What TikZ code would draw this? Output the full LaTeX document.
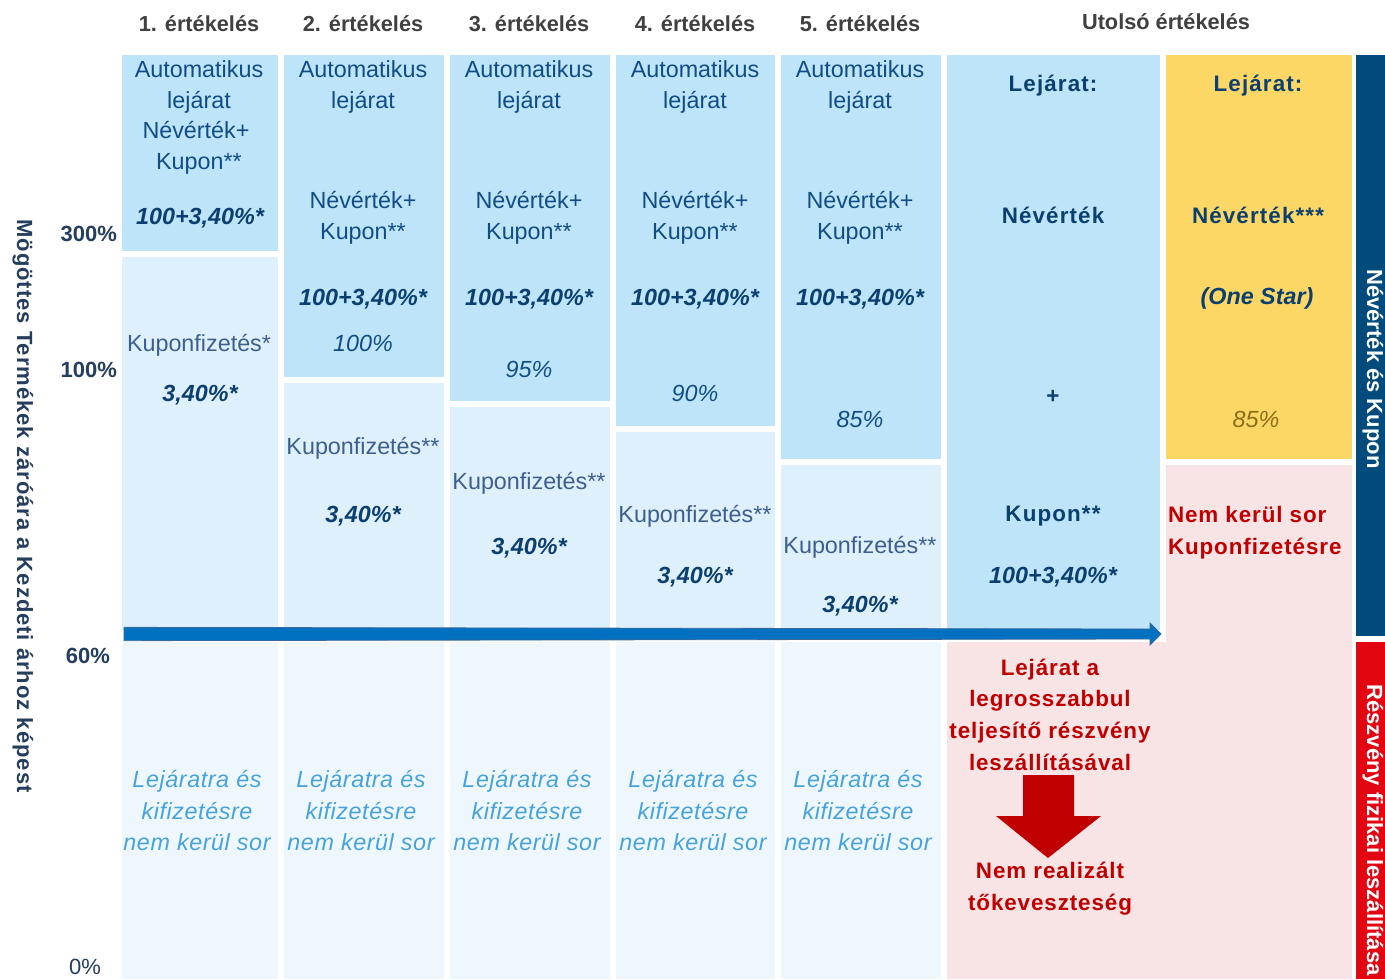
\documentclass[tikz,border=0pt]{standalone}
\usepackage{fontspec}
\setmainfont{Liberation Sans}
\definecolor{topfill}{HTML}{BDE4F9}
\definecolor{midfill}{HTML}{DEF0FC}
\definecolor{lowfill}{HTML}{EFF7FE}
\definecolor{yelfill}{HTML}{FCD766}
\definecolor{pinkfill}{HTML}{F8E3E5}
\definecolor{navybar}{HTML}{004A7C}
\definecolor{redbar}{HTML}{E20613}
\definecolor{arrowblue}{HTML}{0070C0}
\definecolor{arrowedge}{HTML}{3A6A9A}
\definecolor{tblue}{HTML}{114D84}
\definecolor{tdark}{HTML}{0B3F6F}
\definecolor{kupgray}{HTML}{3E5F8E}
\definecolor{lowblue}{HTML}{47A3DA}
\definecolor{redtext}{HTML}{C00000}
\definecolor{axisnavy}{HTML}{263E5E}
\definecolor{hdrgray}{HTML}{404040}
\definecolor{olive}{HTML}{8B6D1A}
\begin{document}
\begin{tikzpicture}[x=0.75pt,y=-0.75pt,
  rbase/.style={inner sep=0pt,outer sep=0pt,text height=0.72em,text depth=0pt,anchor=center},
  base/.style={rbase,yshift=-3pt},
  hdr/.style={base,text=hdrgray,font=\bfseries\fontsize{16.3}{18}\selectfont},
  reg/.style={base,text=tblue,font=\fontsize{17.5}{20}\selectfont},
  bitx/.style={base,text=tdark,font=\bfseries\itshape\fontsize{17.5}{20}\selectfont},
  pct/.style={base,text=tblue,font=\itshape\fontsize{17.5}{20}\selectfont},
  kup/.style={base,text=kupgray,font=\fontsize{17.5}{20}\selectfont},
  low/.style={base,text=lowblue,font=\itshape\fontsize{17.5}{20}\selectfont\addfontfeatures{LetterSpace=2.5}},
  bb/.style={base,text=tdark,font=\bfseries\fontsize{16.8}{20}\selectfont\addfontfeatures{LetterSpace=5}},
  redt/.style={base,text=redtext,font=\bfseries\fontsize{16.8}{20}\selectfont\addfontfeatures{LetterSpace=4}},
  axl/.style={base,text=axisnavy,font=\bfseries\fontsize{16.5}{20}\selectfont},
  sidet/.style={rbase,text=white,rotate=-90,font=\bfseries\fontsize{16.5}{20}\selectfont}]
\useasboundingbox (0,0) rectangle (1385,979);
\fill[white] (0,0) rectangle (1385,979);

% headers
\node[hdr] (h1) at (199,23) {1. értékelés};
\node[hdr] (h2) at (363,23) {2. értékelés};
\node[hdr] (h3) at (529,23) {3. értékelés};
\node[hdr] (h4) at (695,23) {4. értékelés};
\node[hdr] (h5) at (860,23) {5. értékelés};
\node[hdr] (h6) at (1166,21) {Utolsó értékelés};

% axis
\node[rbase,rotate=-90,text=axisnavy,font=\bfseries\fontsize{16.5}{20}\selectfont\addfontfeatures{LetterSpace=4.5}] (ytitle) at (22,506) {Mögöttes Termékek záróára a Kezdeti árhoz képest};
\node[axl,anchor=east] (y300) at (117,233) {300\%};
\node[axl,anchor=east] (y100) at (117,369) {100\%};
\node[axl,anchor=east] (y60) at (110,655) {60\%};
\node[base,anchor=east,text=axisnavy,font=\fontsize{16.5}{20}\selectfont] (y0) at (101,966) {0\%};

% column boxes
\foreach \l/\r/\tb in {122/278/251,284/444/377,450/610/401,616/775/426,781/941/459}{
  \fill[topfill] (\l,55) rectangle (\r,\tb);
  \fill[midfill] (\l,{\tb+6}) rectangle (\r,630);
  \fill[lowfill] (\l,642) rectangle (\r,979);
}
% last evaluation boxes
\fill[topfill] (947,55) rectangle (1160,630);
\fill[yelfill] (1166,55) rectangle (1352,459);
\fill[pinkfill] (947,642) -- (1166,642) -- (1166,465) -- (1352,465) -- (1352,979) -- (947,979) -- cycle;
\fill[navybar] (1356,55) rectangle (1385,636);
\fill[redbar] (1356,642) rectangle (1385,979);

% column 1 texts
\node[reg] (c1a) at (199,69) {Automatikus};
\node[reg] (c1b) at (199,100) {lejárat};
\node[reg] (c1c) at (196,130) {Névérték+};
\node[reg] (c1d) at (199,161) {Kupon**};
\node[bitx] (c1e) at (200,216) {100+3,40\%*};
\node[kup] (c1k) at (199,343) {Kuponfizetés*};
\node[bitx] (c1v) at (200,393) {3,40\%*};

% columns 2-5 texts
\foreach \c/\p/\py/\ky/\vy [count=\i from 2] in {363/100/343/446/514,529/95/369/481/546,695/90/393/514/575,860/85/419/545/604}{
  \node[reg] (c\i a) at (\c,69) {Automatikus};
  \node[reg] (c\i b) at (\c,100) {lejárat};
  \node[reg] (c\i c) at (\c,200) {Névérték+};
  \node[reg] (c\i d) at (\c,231) {Kupon**};
  \node[bitx] (c\i e) at (\c,297) {100+3,40\%*};
  \node[pct] (c\i p) at (\c,\py) {\p\%};
  \node[kup] (c\i k) at (\c,\ky) {Kuponfizetés**};
  \node[bitx] (c\i v) at (\c,\vy) {3,40\%*};
}

% lower texts
\foreach \c [count=\i] in {197,361,527,693,858}{
  \node[low] (l\i a) at (\c,779) {Lejáratra és};
  \node[low] (l\i b) at (\c,811) {kifizetésre};
  \node[low] (l\i c) at (\c,842) {nem kerül sor};
}

% last evaluation (blue)
\node[bb] (la) at (1053,83) {Lejárat:};
\node[bb] (lb) at (1053,215) {Névérték};
\node[bb] (lc) at (1053,395) {+};
\node[bb] (ld) at (1053,513) {Kupon**};
\node[bitx] (le) at (1053,575) {100+3,40\%*};

% last evaluation (yellow)
\node[bb] (ya) at (1258,83) {Lejárat:};
\node[bb] (yb) at (1258,215) {Névérték***};
\node[bitx] (yc) at (1257,296) {(One Star)};
\node[base,text=olive,font=\itshape\fontsize{17.5}{20}\selectfont] (yd) at (1256,419) {85\%};

% pink texts
\node[redt,anchor=west] (pa) at (1168,514) {Nem kerül sor};
\node[redt,anchor=west] (pb) at (1168,546) {Kuponfizetésre};
\node[redt] (ra) at (1050,667) {Lejárat a};
\node[redt] (rb) at (1050,698) {legrosszabbul};
\node[redt] (rc) at (1050,730) {teljesítő részvény};
\node[redt] (rd) at (1050,762) {leszállításával};
\node[redt] (re) at (1050,870) {Nem realizált};
\node[redt] (rf) at (1050,902) {tőkeveszteség};

% red down arrow
\fill[redtext] (1023,775) -- (1074,775) -- (1074,816) -- (1101,816) -- (1048,858) -- (996,816) -- (1023,816) -- cycle;

% blue horizontal arrow
\coordinate (arrS) at (124,634);
\coordinate (arrE) at (1161,634);
\filldraw[fill=arrowblue,draw=arrowedge,line width=0.6pt]
  ([yshift=5]arrS) -- (1150,629) -- (1150,623) -- (arrE) -- (1150,645) -- (1150,639) -- ([yshift=-5]arrS) -- cycle;

% side bars text
\node[sidet] (s1) at (1372,369) {Névérték és Kupon};
\node[sidet] (s2) at (1372,830) {Részvény fizikai leszállítása};
\end{tikzpicture}
\end{document}
